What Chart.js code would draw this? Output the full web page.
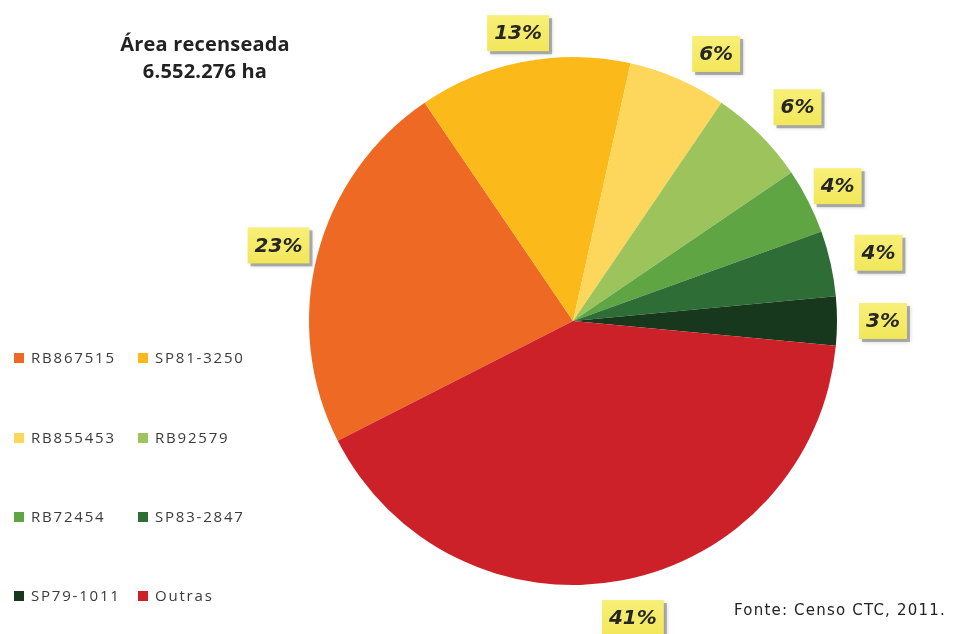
<!DOCTYPE html>
<html>
<head>
<meta charset="utf-8">
<script src="https://cdn.jsdelivr.net/npm/chart.js@4.4.1/dist/chart.umd.min.js"></script>
<style>
  html, body { margin: 0; padding: 0; background: #ffffff; }
  #wrap { position: relative; width: 954px; height: 634px; }
</style>
</head>
<body>
<div id="wrap"><canvas id="c" width="954" height="634"></canvas></div>
<script>
const categories = ['RB867515', 'SP81-3250', 'RB855453', 'RB92579', 'RB72454', 'SP83-2847', 'SP79-1011', 'Outras'];
const shares = [23, 13, 6, 6, 4, 4, 3, 41];
const sliceColors = ['#EE6A24', '#FBBA19', '#FDD65C', '#9DC45C', '#5FA544', '#2F6D36', '#17381D', '#CC2129'];
const titleLines = ['Área recenseada', '6.552.276 ha'];
const sourceNote = 'Fonte: Censo CTC, 2011.';

const labelPlugin = {
  id: 'sliceLabels',
  afterDatasetsDraw(chart, args, opts) {
    const ctx = chart.ctx;
    const meta = chart.getDatasetMeta(0);
    ctx.save();
    ctx.font = 'italic bold 20px "DejaVu Sans"';
    ctx.textAlign = 'center';
    ctx.textBaseline = 'middle';
    meta.data.forEach((arc, i) => {
      const p = arc.getProps(['x', 'y', 'startAngle', 'endAngle', 'outerRadius'], true);
      const mid = (p.startAngle + p.endAngle) / 2 + (opts.angleNudge[i] || 0) * Math.PI / 180;
      const r = p.outerRadius + opts.gap[i];
      const x = p.x + Math.cos(mid) * r;
      const y = p.y + Math.sin(mid) * r;
      const text = shares[i] + '%';
      const w = ctx.measureText(text).width + 14;
      const h = 36;
      ctx.fillStyle = 'rgba(110,110,110,0.5)';
      ctx.shadowColor = 'rgba(0,0,0,0.35)';
      ctx.shadowBlur = 4;
      ctx.fillRect(x - w / 2 + 3, y - h / 2 + 3, w, h);
      ctx.shadowBlur = 0;
      ctx.shadowColor = 'transparent';
      const g = ctx.createLinearGradient(0, y - h / 2, 0, y + h / 2);
      g.addColorStop(0, '#F7EF78');
      g.addColorStop(1, '#F2E75A');
      ctx.fillStyle = g;
      ctx.fillRect(x - w / 2, y - h / 2, w, h);
      ctx.fillStyle = '#262626';
      ctx.fillText(text, x, y + 1);
    });
    ctx.restore();
  }
};

const extrasPlugin = {
  id: 'extras',
  afterDraw(chart) {
    const ctx = chart.ctx;
    ctx.save();
    ctx.fillStyle = '#222222';
    ctx.textAlign = 'center';
    ctx.textBaseline = 'middle';
    ctx.font = 'bold 20px "Open Sans"';
    ctx.letterSpacing = '0.2px';
    ctx.fillText(titleLines[0], 205, 45);
    ctx.fillText(titleLines[1], 205, 72);
    ctx.font = '15px "Open Sans"';
    ctx.letterSpacing = '1.8px';
    ctx.textAlign = 'left';
    const colX = [14, 138];
    const rowY = [358, 438, 517, 596];
    categories.forEach((name, i) => {
      const col = i % 2;
      const row = Math.floor(i / 2);
      const x = colX[col];
      const y = rowY[row];
      ctx.fillStyle = sliceColors[i];
      ctx.fillRect(x, y - 5, 10, 10);
      ctx.fillStyle = '#3a3a3a';
      ctx.fillText(name, x + 17, y + 1);
    });
    ctx.font = '15px "DejaVu Sans"';
    ctx.letterSpacing = '1.2px';
    ctx.fillStyle = '#222222';
    ctx.textAlign = 'left';
    ctx.fillText(sourceNote, 734, 611);
    ctx.restore();
  }
};

new Chart(document.getElementById('c'), {
  type: 'pie',
  data: {
    labels: categories,
    datasets: [{
      data: shares,
      backgroundColor: sliceColors,
      borderWidth: 0
    }]
  },
  options: {
    responsive: false,
    animation: false,
    rotation: 243,
    layout: { padding: { left: 309, right: 117, top: 57, bottom: 49 } },
    plugins: {
      legend: { display: false },
      tooltip: { enabled: false },
      title: { display: false },
      sliceLabels: {
        gap: [40, 29, 39, 46, 33, 49, 46, 39],
        angleNudge: [0, 0, 4.8, 1.4, 0, 0, 0, -0.6]
      }
    }
  },
  plugins: [labelPlugin, extrasPlugin]
});
</script>
</body>
</html>
